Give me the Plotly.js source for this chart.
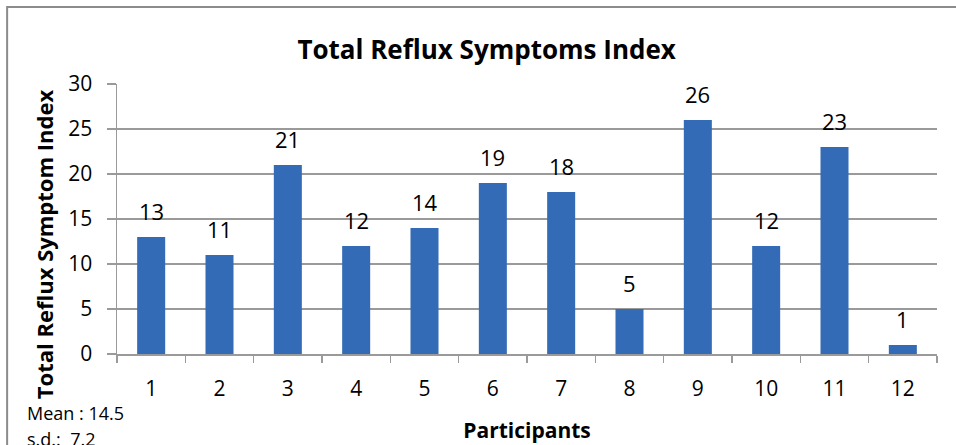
<!DOCTYPE html>
<html>
<head>
<meta charset="utf-8">
<script src="https://cdn.plot.ly/plotly-3.0.1.min.js"></script>
<style>html,body{margin:0;padding:0;background:#fff;}#chart{width:956px;height:445px;}</style>
</head>
<body>
<div id="chart"></div>
<script>
const participants = ['1','2','3','4','5','6','7','8','9','10','11','12'];
const rsiScores = [13, 11, 21, 12, 14, 19, 18, 5, 26, 12, 23, 1];
const yTicks = [0, 5, 10, 15, 20, 25, 30];
const statsText = ['Mean : 14.5', 's.d.:  7.2'];
const yTitle = 'Total Reflux Symptom Index';

const FONT = '"Open Sans", sans-serif';
const GRID = '#9a9a9a';

const trace = {
  type: 'bar',
  x: participants,
  y: rsiScores,
  marker: {color: '#346bb6', line: {width: 0}},
  hoverinfo: 'x+y'
};

const valueLabels = participants.map((p, i) => ({
  x: i, y: rsiScores[i], xref: 'x', yref: 'y',
  text: String(rsiScores[i]), showarrow: false,
  yanchor: 'bottom', yshift: 9,
  font: {family: FONT, size: 22, color: '#000'}
}));

const statLabels = statsText.map((t, i) => ({
  xref: 'paper', yref: 'paper', x: -0.112, y: -0.22 - i * 0.095,
  xanchor: 'left', yanchor: 'middle', text: t, showarrow: false,
  font: {family: FONT, size: 18, color: '#000'}
}));

const yTitleLabel = {
  xref: 'paper', yref: 'paper', x: -0.089, y: 0.407,
  xanchor: 'center', yanchor: 'middle', textangle: -90,
  text: '<b>' + yTitle + '</b>', showarrow: false,
  font: {family: FONT, size: 22, color: '#000'}
};

const layout = {
  width: 956, height: 445,
  margin: {l: 117, r: 19, t: 84, b: 91, autoexpand: false},
  paper_bgcolor: '#fff', plot_bgcolor: '#fff',
  font: {family: FONT, color: '#000'},
  showlegend: false,
  bargap: 0.59,
  title: {
    text: '<b>Total Reflux Symptoms Index</b>',
    font: {family: FONT, size: 26, color: '#000'},
    xref: 'container', x: 0.509, xanchor: 'center',
    yref: 'container', y: 0.888, yanchor: 'middle'
  },
  xaxis: {
    type: 'category', range: [-0.5, 11.5],
    tickson: 'boundaries', ticks: 'outside', ticklen: 7, tickcolor: GRID, tickwidth: 1.5,
    showline: true, linecolor: GRID, linewidth: 1.5,
    showgrid: false, zeroline: false,
    tickfont: {family: FONT, size: 21, color: '#000'},
    ticklabelstandoff: 15,
    title: {text: '<b>Participants</b>', font: {family: FONT, size: 21, color: '#000'}, standoff: 22}
  },
  yaxis: {
    range: [0, 30], tickvals: yTicks, ticktext: yTicks.map(String),
    ticks: 'outside', ticklen: 9, tickcolor: GRID, tickwidth: 1.5,
    showline: true, linecolor: GRID, linewidth: 1.5,
    showgrid: true, gridcolor: GRID, gridwidth: 1.5, zeroline: false,
    tickfont: {family: FONT, size: 21, color: '#000'},
    ticklabelstandoff: 10
  },
  shapes: [{
    type: 'rect', xref: 'paper', yref: 'paper',
    x0: -0.134, x1: 1.05, y0: -0.5, y1: 1.285,
    line: {color: '#8c8c8c', width: 2}, fillcolor: 'rgba(0,0,0,0)', layer: 'below'
  }],
  annotations: valueLabels.concat(statLabels, [yTitleLabel])
};

Plotly.newPlot('chart', [trace], layout, {displayModeBar: false, staticPlot: true});
</script>
</body>
</html>
